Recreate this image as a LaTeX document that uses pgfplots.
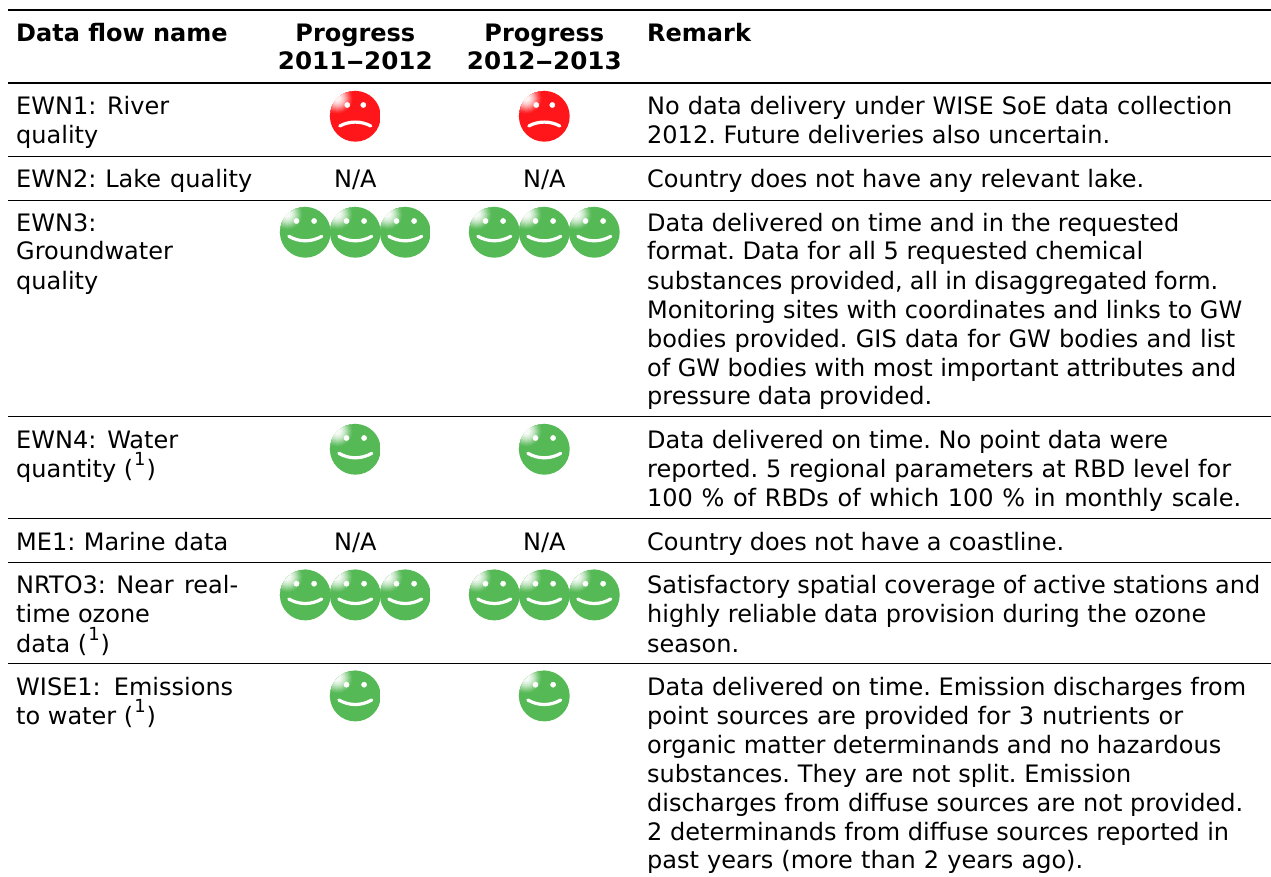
\documentclass[border=0pt]{standalone}
\usepackage{fontspec}
\setmainfont{DejaVu Sans}
\usepackage{graphicx}
\usepackage{pgfplots}
\pgfplotsset{compat=1.18}
\definecolor{smgreen}{RGB}{85,185,85}
\definecolor{smred}{RGB}{255,22,26}
\newcommand\face[1]{%
  \begin{pgfscope}
  \pgfpathcircle{\pgfpointorigin}{25.4pt}\pgfusepath{clip}
  \fill[#1] (-26pt,26pt) rectangle (26pt,-26pt);
  \foreach \r/\m in {15/6,14/13,13/21,12/30,11/39,10/48,9/57,8/65,7/72,6/79,5/85,4/90,3/95}{
    \fill[white!\m!#1] (-18pt,18pt) circle (\r pt);
  }
  \end{pgfscope}
}
\pgfdeclareplotmark{happy}{%
  \face{smgreen}
  \fill[white] (-8.8pt,11.3pt) circle (2.6pt);
  \fill[white] (8.8pt,11.3pt) circle (2.6pt);
  \draw[white,line width=3.2pt,line cap=round] (-16.5pt,-4pt) .. controls (-6pt,-10pt) and (6pt,-10pt) .. (16.5pt,-4pt);
}
\pgfdeclareplotmark{sad}{%
  \face{smred}
  \fill[white] (-8pt,11.3pt) circle (2.6pt);
  \fill[white] (8pt,11.3pt) circle (2.6pt);
  \draw[white,line width=3.2pt,line cap=round] (-15.5pt,-9.7pt) .. controls (-6pt,-4.5pt) and (6pt,-4.5pt) .. (15.5pt,-9.7pt);
}
\newcommand\tl[3]{\node[anchor=base west,inner sep=0pt] at (axis cs:#1,#2) {#3};}
\newcommand\tc[3]{\node[anchor=base,inner sep=0pt] at (axis cs:#1,#2) {#3};}
% line set from x #1 to right edge #3, word spaces fitted
\newcommand\tw[4]{\node[anchor=base west,inner sep=0pt] at (axis cs:#1,#2) {\hbox to \dimexpr #3pt-#1pt\relax{\frenchspacing\spaceskip=0.33em plus 1em minus 1em #4}};}
\newcommand\sone{(\kern1pt\raisebox{11.5pt}{\fontsize{18}{18}\selectfont 1}\kern1pt)}
\begin{document}
\begin{tikzpicture}[every node/.style={font=\fontsize{24}{29}\selectfont,text=black}]
\useasboundingbox (0,0) rectangle (1271pt,877pt);
\begin{axis}[at={(0,0)},anchor=south west,scale only axis,width=1271pt,height=877pt,
  xmin=0,xmax=1271,ymin=0,ymax=877,y dir=reverse,hide axis,clip=false]
% rules
\addplot[black,line width=2.2pt,forget plot] coordinates {(8,10)(1271,10)};
\addplot[black,line width=2.2pt,forget plot] coordinates {(8,82.7)(1271,82.7)};
\addplot[black,line width=1.1pt,forget plot] coordinates {(8,156.3)(1271,156.3)};
\addplot[black,line width=1.1pt,forget plot] coordinates {(8,200.3)(1271,200.3)};
\addplot[black,line width=1.1pt,forget plot] coordinates {(8,416.3)(1271,416.3)};
\addplot[black,line width=1.1pt,forget plot] coordinates {(8,518.3)(1271,518.3)};
\addplot[black,line width=1.1pt,forget plot] coordinates {(8,562.3)(1271,562.3)};
\addplot[black,line width=1.1pt,forget plot] coordinates {(8,663.3)(1271,663.3)};
% faces
\addplot[only marks,mark=sad,forget plot] coordinates {(355.3,116.3)(544.3,116.3)};
\addplot[only marks,mark=happy,forget plot] coordinates {
(305.3,232.3)(355.3,232.3)(405.3,232.3)(494.3,232.3)(544.3,232.3)(594.3,232.3)
(355.3,449.3)(544.3,449.3)
(305.3,595)(355.3,595)(405.3,595)(494.3,595)(544.3,595)(594.3,595)
(355.3,696)(544.3,696)};
% header
\tl{16}{41.5}{\textbf{Data flow name}}
\tc{355.3}{41.5}{\textbf{Progress}}
\tc{355.3}{69.5}{\scalebox{1.025}[1]{\textbf{2011\scalebox{1.45}[1]{–}2012}}}
\tc{544.3}{41.5}{\textbf{Progress}}
\tc{544.3}{69.5}{\scalebox{1.025}[1]{\textbf{2012\scalebox{1.45}[1]{–}2013}}}
\tl{647}{41.5}{\textbf{Remark}}
% first column
\tw{16}{115}{169}{EWN1: River}
\tl{16}{144}{quality}
\tw{16}{188}{252}{EWN2: Lake quality}
\tl{16}{231.5}{EWN3:}
\tl{16}{260}{Groundwater}
\tl{16}{289}{quality}
\tw{16}{448}{178}{EWN4: Water}
\tl{16}{477}{quantity \sone}
\tw{16}{550}{228}{ME1: Marine data}
\tw{16}{593.5}{238}{NRTO3: Near real-}
\tl{16}{622.5}{time ozone}
\tl{16}{652}{data \sone}
\tw{16}{695}{233}{WISE1: Emissions}
\tl{16}{724}{to water \sone}
% N/A
\tc{355.3}{188}{N/A}
\tc{544.3}{188}{N/A}
\tc{355.3}{550}{N/A}
\tc{544.3}{550}{N/A}
% remarks
\tw{647}{115}{1232}{No data delivery under WISE SoE data collection}
\tw{647}{144}{1110}{2012. Future deliveries also uncertain.}
\tw{647}{188}{1144}{Country does not have any relevant lake.}
\tw{647}{231.5}{1179}{Data delivered on time and in the requested}
\tw{647}{260}{1143}{format. Data for all 5 requested chemical}
\tw{647}{289}{1218}{substances provided, all in disaggregated form.}
\tw{647}{318}{1242}{Monitoring sites with coordinates and links to GW}
\tw{647}{347}{1235}{bodies provided. GIS data for GW bodies and list}
\tw{647}{376}{1236}{of GW bodies with most important attributes and}
\tw{647}{404}{932}{pressure data provided.}
\tw{647}{448}{1168}{Data delivered on time. No point data were}
\tw{647}{477}{1231}{reported. 5 regional parameters at RBD level for}
\tw{647}{506}{1241}{100 \% of RBDs of which 100 \% in monthly scale.}
\tw{647}{550}{1064}{Country does not have a coastline.}
\tw{647}{593.5}{1260}{Satisfactory spatial coverage of active stations and}
\tw{647}{622.5}{1206}{highly reliable data provision during the ozone}
\tl{647}{652}{season.}
\tw{647}{695}{1246}{Data delivered on time. Emission discharges from}
\tw{647}{724}{1183}{point sources are provided for 3 nutrients or}
\tw{647}{753}{1221}{organic matter determinands and no hazardous}
\tw{647}{782}{1131}{substances. They are not split. Emission}
\tw{647}{811}{1243}{discharges from diffuse sources are not provided.}
\tw{647}{840}{1229}{2 determinands from diffuse sources reported in}
\tw{647}{868.5}{1083}{past years (more than 2 years ago).}
\end{axis}
\end{tikzpicture}
\end{document}
